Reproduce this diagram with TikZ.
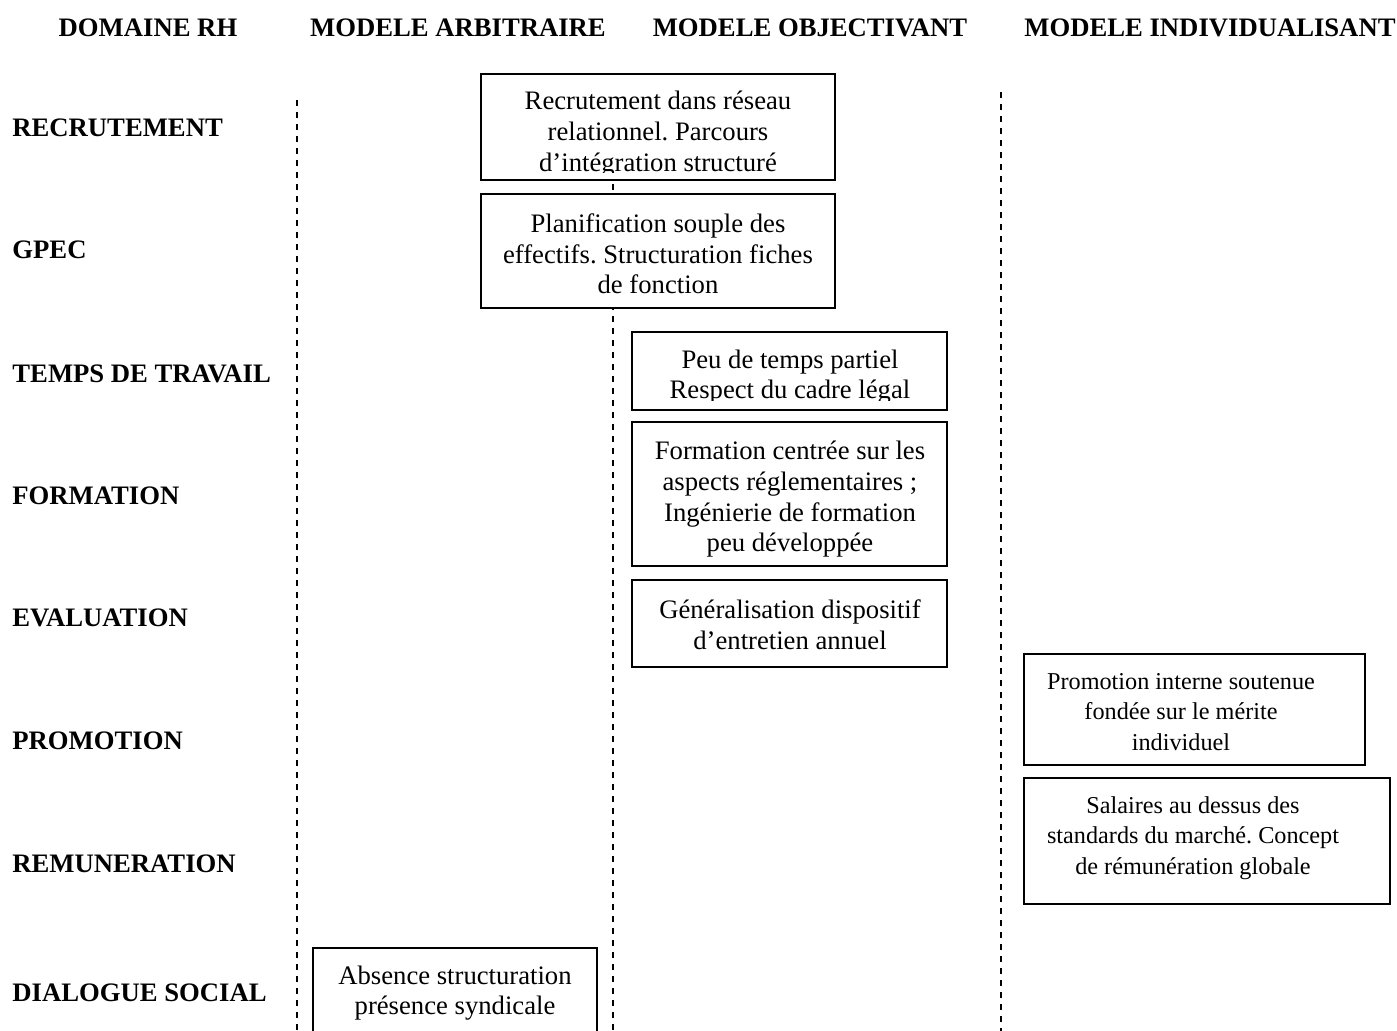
\documentclass[tikz,border=0pt]{standalone}
\usepackage{fontspec}
\setmainfont{Liberation Serif}
\frenchspacing
\begin{document}
\begin{tikzpicture}[x=0.45pt,y=-0.45pt,
  hdr/.style={font=\fontsize{12}{13.8}\selectfont\bfseries, inner sep=0pt},
  rowlab/.style={font=\fontsize{12}{13.8}\selectfont\bfseries, anchor=west, inner sep=0pt},
  boxtxt/.style={font=\fontsize{12}{13.8}\selectfont, align=center, inner sep=0pt},
  smalltxt/.style={font=\fontsize{10.9}{13.75}\selectfont, align=center, inner sep=0pt},
  sep/.style={draw=black, line width=0.9pt, dash pattern=on 2.7pt off 2.7pt},
  frame/.style={draw=black, fill=white, line width=0.9pt}]
\useasboundingbox (0,0) rectangle (1397,1031);

% headers
\node[hdr] (h1) at (148,28) {DOMAINE RH};
\node[hdr] (h2) at (458,28) {MODELE ARBITRAIRE};
\node[hdr] (h3) at (810,28) {MODELE OBJECTIVANT};
\node[hdr] (h4) at (1210,28) {MODELE INDIVIDUALISANT};

% row labels
\node[rowlab] (r1) at (12,128) {RECRUTEMENT};
\node[rowlab] (r2) at (12,250) {GPEC};
\node[rowlab] (r3) at (12,374) {TEMPS DE TRAVAIL};
\node[rowlab] (r4) at (12,496) {FORMATION};
\node[rowlab] (r5) at (12,618) {EVALUATION};
\node[rowlab] (r6) at (12,741) {PROMOTION};
\node[rowlab] (r7) at (12,864) {REMUNERATION};
\node[rowlab] (r8) at (12,993) {DIALOGUE SOCIAL};

% dashed separators
\coordinate (s1a) at (297,100); \coordinate (s1b) at (297,1031);
\coordinate (s2a) at (613,100); \coordinate (s2b) at (613,1031);
\coordinate (s3a) at (1001,92); \coordinate (s3b) at (1001,1031);
\draw[sep] (s1a) -- (s1b);
\draw[sep] (s2a) -- (s2b);
\draw[sep] (s3a) -- (s3b);

% boxes
\draw[frame] (481,74) rectangle (835,180);
\begin{scope}
\clip (481,74) rectangle (835,173);
\node[boxtxt] (b1) at (658,134) {Recrutement dans réseau\\relationnel. Parcours\\d’intégration structuré};
\end{scope}

\draw[frame] (481,194) rectangle (835,308);
\node[boxtxt] (b2) at (658,254) {Planification souple des\\effectifs. Structuration fiches\\de fonction};

\draw[frame] (632,332) rectangle (947,410);
\begin{scope}
\clip (632,332) rectangle (947,401);
\node[boxtxt] (b3) at (790,377) {Peu de temps partiel\\Respect du cadre légal};
\end{scope}

\draw[frame] (632,422) rectangle (947,566);
\node[boxtxt] (b4) at (790,499.5) {Formation centrée sur les\\aspects réglementaires ;\\Ingénierie de formation\\peu développée};

\draw[frame] (632,580) rectangle (947,667);
\node[boxtxt] (b5) at (790,624.5) {Généralisation dispositif\\d’entretien annuel};

\draw[frame] (1024,654) rectangle (1365,765);
\node[smalltxt] (b6) at (1181,712) {Promotion interne soutenue\\fondée sur le mérite\\individuel};

\draw[frame] (1024,778) rectangle (1390,904);
\node[smalltxt] (b7) at (1193,838) {Salaires au dessus des\\standards du marché. Concept\\de rémunération globale};

\draw[frame] (313,948) rectangle (597,1040);
\node[boxtxt] (b8) at (455,993) {Absence structuration\\présence syndicale};
\end{tikzpicture}
\end{document}
